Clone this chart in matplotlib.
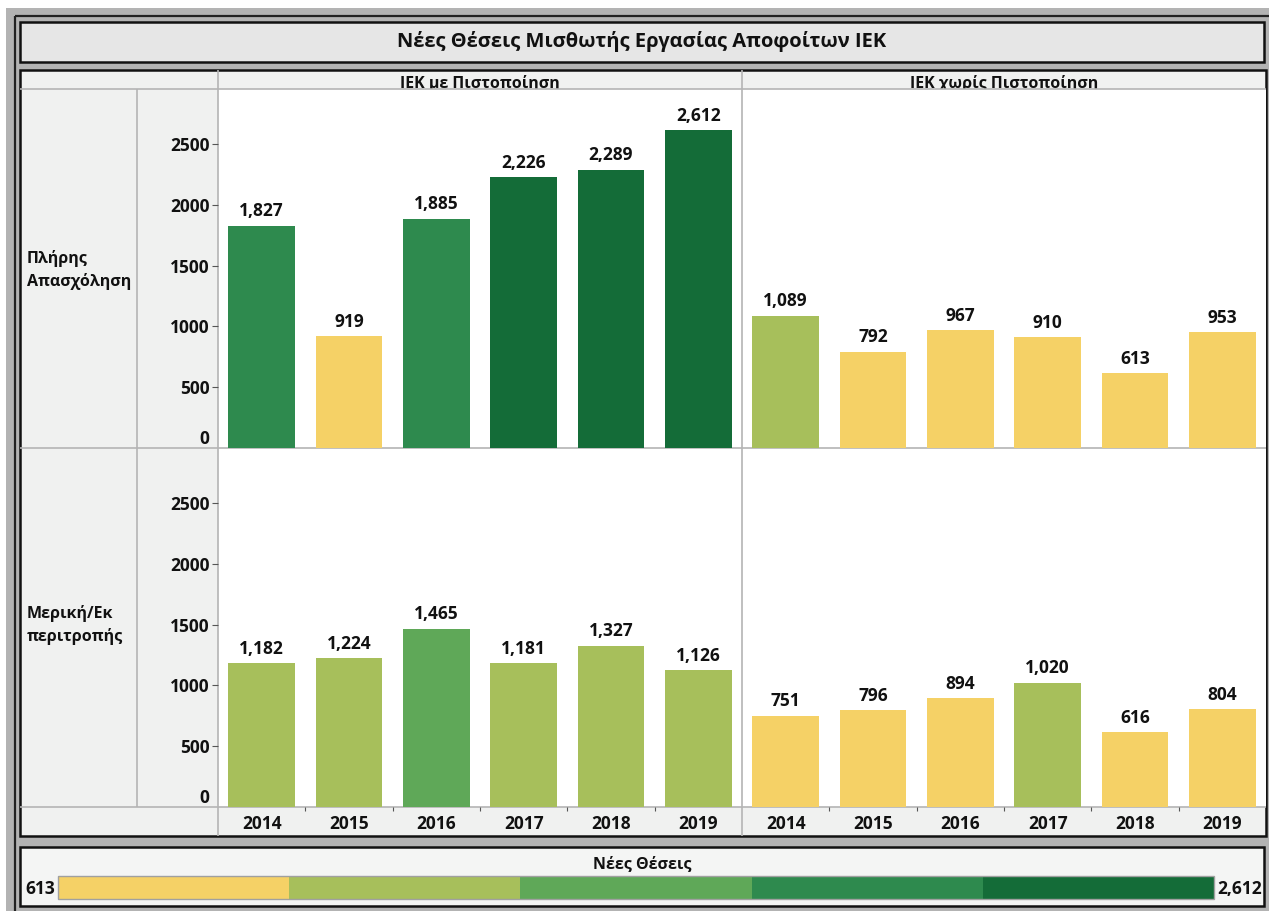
import matplotlib
matplotlib.use("Agg")
import matplotlib.pyplot as plt
from matplotlib.patches import Rectangle
import numpy as np

plt.rcParams['font.family'] = ['Open Sans', 'DejaVu Sans']
plt.rcParams['font.weight'] = 'bold'

W, H = 1269, 911

title = "Νέες Θέσεις Μισθωτής Εργασίας Αποφοίτων ΙΕΚ"
col_headers = ["ΙΕΚ με Πιστοποίηση", "ΙΕΚ χωρίς Πιστοποίηση"]
row_headers = ["Πλήρης\nΑπασχόληση", "Μερική/Εκ\nπεριτροπής"]
years = ["2014", "2015", "2016", "2017", "2018", "2019"]
cert_full = [1827, 919, 1885, 2226, 2289, 2612]
nocert_full = [1089, 792, 967, 910, 613, 953]
cert_part = [1182, 1224, 1465, 1181, 1327, 1126]
nocert_part = [751, 796, 894, 1020, 616, 804]
yticks = [0, 500, 1000, 1500, 2000, 2500]
legend_title = "Νέες Θέσεις"
palette = ["#f5d166", "#a7bf5b", "#5fa858", "#2e8a4e", "#146c38"]

data = [[cert_full, nocert_full], [cert_part, nocert_part]]
vmin = min(min(s) for row in data for s in row)
vmax = max(max(s) for row in data for s in row)

TXT = "#111111"
FS_NUM = 12.5


def color_for(v):
    idx = int((v - vmin) / (vmax - vmin) * len(palette))
    return palette[min(idx, len(palette) - 1)]


fig = plt.figure(figsize=(W / 100, H / 100), dpi=100)
fig.patch.set_facecolor("white")

bg = fig.add_axes([0, 0, 1, 1])
bg.set_xlim(0, W)
bg.set_ylim(H, 0)
bg.axis("off")


def rect(x0, y0, x1, y1, fc, ec="none", lw=0, z=1):
    bg.add_patch(Rectangle((x0, y0), x1 - x0, y1 - y0, facecolor=fc,
                           edgecolor=ec, linewidth=lw, zorder=z))


def line(x0, y0, x1, y1, c="#b4b4b4", lw=1.2, z=4):
    bg.plot([x0, x1], [y0, y1], color=c, lw=lw, zorder=z, solid_capstyle="butt")


# outer gray frame
rect(6, 8, W + 5, H + 5, "#b3b3b3")
rect(14.5, 16, W + 5, H + 5, "none", ec="#222222", lw=1.6, z=2)

# title box
rect(20, 22, 1264, 62, "#e6e6e6", ec="#111111", lw=1.8, z=2)
bg.text(642, 42, title, ha="center", va="center", fontsize=14.5,
        fontweight="bold", color=TXT, zorder=6)

# main panel
px0, px1 = 20, 1266
hy0, hy1 = 70, 89
ry = [89, 448, 807]
xband = 836
cx = [218, 742, 1266]
rect(px0, hy0, px1, xband, "#f0f1f0", ec="#111111", lw=1.8, z=2)
for j, hdr in enumerate(col_headers):
    bg.text((cx[j] + cx[j + 1]) / 2, 84, hdr, ha="center", va="center",
            fontsize=11.5, fontweight="bold", color=TXT, zorder=2.5)
# plot areas white (clip header text descenders like the original)
rect(cx[0], ry[0], cx[2], ry[2], "white", z=3)
# grid lines
line(px0, hy1, px1, hy1)
line(px0, ry[1], px1, ry[1])
line(px0, ry[2], px1, ry[2])
line(137, hy1, 137, ry[2])
line(cx[0], hy0, cx[0], xband)
line(cx[1], hy0, cx[1], xband)

for i, hdr in enumerate(row_headers):
    bg.text(27, [270, 625][i], hdr, ha="left", va="center", fontsize=11.5,
            fontweight="bold", color=TXT, linespacing=1.45, zorder=6)

# legend box
rect(20, 847, 1264, 906, "#f4f5f4", ec="#111111", lw=1.8, z=2)
bg.text(642, 864, legend_title, ha="center", va="center", fontsize=11.5,
        fontweight="bold", color=TXT, zorder=6)
lx0, lx1, ly0, ly1 = 58, 1214, 876, 899
seg = (lx1 - lx0) / len(palette)
for k, c in enumerate(palette):
    rect(lx0 + k * seg, ly0, lx0 + (k + 1) * seg, ly1, c, z=3)
rect(lx0, ly0, lx1, ly1, "none", ec="#a0a0a0", lw=1, z=4)
bg.text(lx0 - 3, (ly0 + ly1) / 2 + 1, f"{vmin:,}", ha="right", va="center",
        fontsize=FS_NUM, fontweight="bold", color=TXT, zorder=6)
bg.text(lx1 + 3, (ly0 + ly1) / 2 + 1, f"{vmax:,}", ha="left", va="center",
        fontsize=FS_NUM, fontweight="bold", color=TXT, zorder=6)

ymax = 2500 * (448 - 89) / (448 - 144)
xpos = np.arange(len(years))
for i in range(2):
    for j in range(2):
        vals = data[i][j]
        ax = fig.add_axes([cx[j] / W, 1 - ry[i + 1] / H,
                           (cx[j + 1] - cx[j]) / W, (ry[i + 1] - ry[i]) / H])
        ax.set_facecolor("none")
        ax.bar(xpos, vals, width=0.76, color=[color_for(v) for v in vals], zorder=3)
        for x, v in zip(xpos, vals):
            ax.annotate(f"{v:,}", (x, v), xytext=(0, 4), textcoords="offset points",
                        ha="center", va="bottom", fontsize=FS_NUM, fontweight="bold",
                        color=TXT)
        ax.set_xlim(-0.5, len(years) - 0.5)
        ax.set_ylim(0, ymax)
        for s in ax.spines.values():
            s.set_visible(False)
        if j == 0:
            ax.set_yticks(yticks)
            ax.set_yticklabels([str(t) for t in yticks], fontsize=FS_NUM,
                               fontweight="bold", color=TXT)
            ax.tick_params(axis="y", length=4, width=0.8, color="#555555", pad=2)
            t0 = ax.yaxis.get_major_ticks()[0]
            t0.tick1line.set_visible(False)
            t0.label1.set_verticalalignment("bottom")
        else:
            ax.set_yticks([])
        ax.set_xticks(xpos)
        if i == 1:
            ax.set_xticklabels(years, fontsize=FS_NUM, fontweight="bold", color=TXT)
            ax.set_xticks(xpos[:-1] + 0.5, minor=True)
            ax.tick_params(axis="x", which="major", length=0, pad=6)
            ax.tick_params(axis="x", which="minor", length=3, width=0.8,
                           color="#555555")
        else:
            ax.set_xticklabels([])
            ax.tick_params(axis="x", length=0)

fig.savefig("out.png", dpi=100)
